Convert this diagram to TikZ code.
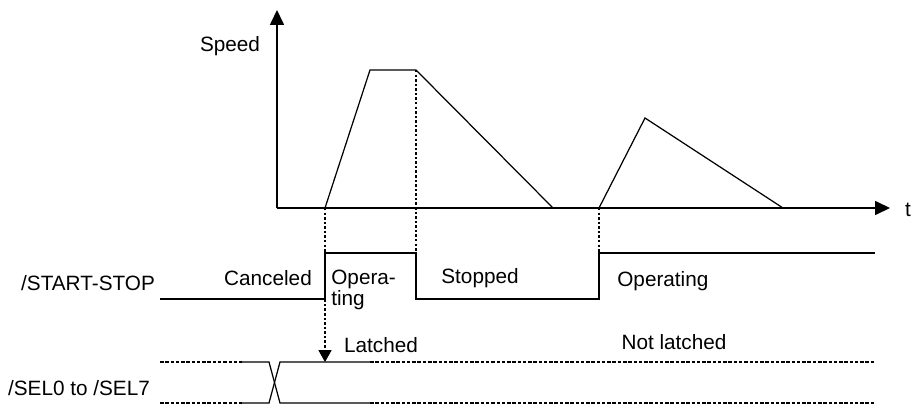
\documentclass[tikz,border=0pt]{standalone}
\usepackage{fontspec}
\setmainfont{Liberation Sans}
\usetikzlibrary{arrows.meta}
\tikzset{
  sig/.style={line width=0.7pt},
  guide/.style={line width=0.6pt,dash pattern=on 1.4pt off 1.2pt},
  bus/.style={line width=0.6pt,dash pattern=on 2pt off 1pt},
  axis/.style={sig,-{Triangle[length=8.5pt,width=8pt]}},
  lbl/.style={font=\fontsize{11.8}{13}\selectfont,inner sep=0pt},
}

\begin{document}
\begin{tikzpicture}[x=0.02cm,y=-0.02cm]
    \useasboundingbox (0,0) rectangle (915,405);
    % axes
    \coordinate (o)    at (277,208);
    \coordinate (ytop) at (277,10);
    \coordinate (xend) at (890,208);
    \draw[axis] (o)--(ytop);
    \draw[axis] (o)--(xend);
    \node[lbl] (speed) at (230,46)  {Speed};
    \node[lbl] (t)     at (908,210) {t};
    % speed profile
    \coordinate (a1) at (325,208);
    \coordinate (a2) at (370,70);
    \coordinate (a3) at (416,70);
    \coordinate (a4) at (553,208);
    \coordinate (b1) at (599,208);
    \coordinate (b2) at (645,118);
    \coordinate (b3) at (783,208);
    \draw[sig] (a1)--(a2)--(a3)--(a4);
    \draw[sig] (b1)--(b2)--(b3);
    % /START-STOP
    \coordinate (s0) at (160,299);
    \coordinate (s1) at (325,253);
    \coordinate (s2) at (416,299);
    \coordinate (s3) at (599,253);
    \coordinate (s4) at (875,253);
    \draw[sig] (s0) -| (s1) -| (s2) -| (s3) -- (s4);
    \node[lbl] (ss)   at (88,283)  {/START-STOP};
    \node[lbl] (canc) at (268,278) {Canceled};
    \node[lbl,anchor=west,align=left] (op1) at (331,290) {Opera-\\[-1pt]ting};
    \node[lbl] (stop) at (480,278) {Stopped};
    \node[lbl,anchor=west] (op2) at (617,281) {Operating};
    % /SEL0 to /SEL7
    \coordinate (l0) at (160,362);
    \coordinate (l1) at (242,362);
    \coordinate (l2) at (269,362);
    \coordinate (l3) at (280,362);
    \coordinate (l4) at (370,362);
    \coordinate (l5) at (875,362);
    \coordinate (m0) at (160,403);
    \coordinate (m1) at (242,403);
    \coordinate (m2) at (269,403);
    \coordinate (m3) at (280,403);
    \coordinate (m4) at (370,403);
    \coordinate (m5) at (875,403);
    \draw[bus] (l0)--(l1);
    \draw[bus] (m0)--(m1);
    \draw[sig] (l1)--(l2)--(m3)--(m4);
    \draw[sig] (m1)--(m2)--(l3)--(l4);
    \draw[bus] (l4)--(l5);
    \draw[bus] (m4)--(m5);
    \node[lbl] (sel)  at (79,388)  {/SEL0 to /SEL7};
    \node[lbl] (lat)  at (381,345) {Latched};
    \node[lbl] (nlat) at (674,342) {Not latched};
    % guides
    \coordinate (g1) at (325,362);
    \coordinate (g2) at (416,253);
    \draw[guide,-{Triangle[length=6.8pt,width=7.5pt]}] (a1)--(g1);
    \draw[guide] (a3)--(g2);
    \draw[guide] (b1)--(s3);
  \end{tikzpicture}
\end{document}
